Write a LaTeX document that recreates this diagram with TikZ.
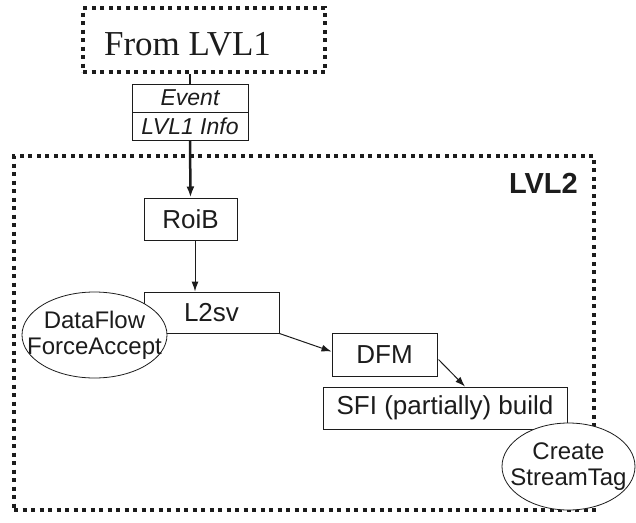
\documentclass[tikz,border=0pt]{standalone}
\usepackage{fontspec}
\setmainfont{Liberation Sans}
\newfontfamily\titleserif{Liberation Serif}
\usetikzlibrary{arrows.meta,shapes.geometric}

\definecolor{ink}{HTML}{1c1c1c}

\tikzset{
  dotframe/.style={draw=ink, line width=4pt, dash pattern=on 4pt off 4.5pt, inner sep=0pt},
  procbox/.style={draw=ink, line width=1pt, fill=white, inner sep=0pt, text=ink,
                  font=\fontsize{26}{30}\selectfont},
  infobox/.style={draw=ink, line width=1pt, fill=white, inner sep=0pt, text=ink,
                  minimum width=116pt, minimum height=28pt,
                  font=\fontsize{23}{26}\selectfont\itshape},
  note/.style={ellipse, draw=ink, line width=0.8pt, fill=white, inner sep=0pt},
  notetext/.style={inner sep=0pt, text=ink, align=center, font=\fontsize{24}{26}\selectfont},
  thickflow/.style={draw=ink, line width=2.5pt},
  thinflow/.style={draw=ink, line width=1pt, -{Latex[length=10pt,width=7pt]}},
}

\begin{document}
\begin{tikzpicture}[x=1pt, y=-1pt]
  \useasboundingbox (0,0) rectangle (636,522);

  % source frame
  \node[dotframe, minimum width=242pt, minimum height=64pt] (src) at (204,40) {};
  \node[anchor=base, text=ink, font=\titleserif\fontsize{35}{40}\selectfont, inner sep=0pt]
    (srctxt) at (187.5,55) {From LVL1};

  % LVL2 frame
  \node[dotframe, minimum width=580pt, minimum height=354pt] (lvl2) at (304,333) {};
  \node[anchor=base east, text=ink, font=\fontsize{29}{32}\selectfont\bfseries, inner sep=0pt]
    (lvl2txt) at (578,193) {LVL2};

  % event record
  \node[infobox] (evt) at (190,98) {Event};
  \node[infobox] (info) at (190,126) {LVL1 Info};

  % processing boxes
  \node[procbox, minimum width=93pt, minimum height=42pt] (roib) at (190.5,219) {RoiB};
  \node[procbox, minimum width=135pt, minimum height=41pt] (l2sv) at (211.5,312.5) {L2sv};
  \node[procbox, minimum width=105pt, minimum height=43pt] (dfm) at (384.5,354.5) {DFM};
  \node[procbox, minimum width=244pt, minimum height=42pt] (sfi) at (445,408) {SFI (partially) build};

  % annotations: fixed-size ellipses with their text laid on top
  \node[note, minimum width=145pt, minimum height=86pt] (dfa) at (94.5,335) {};
  \node[notetext] (dfatxt) at (dfa.center) {DataFlow\\ForceAccept};
  \node[note, minimum width=133pt, minimum height=87pt] (stag) at (568.5,466.5) {};
  \node[notetext] (stagtxt) at (stag.center) {Create\\StreamTag};

  % event path
  \draw[thickflow] (evt.north |- src.south) -- (evt.north);
  \draw[thickflow, -{Latex[length=11pt,width=8pt]}] (info.south) -- (roib.north);
  \draw[thinflow] ([xshift=4.5pt]roib.south) -- ([xshift=4.5pt]roib.south |- l2sv.north);
  \draw[thinflow] (l2sv.south east) -- ([yshift=3pt]dfm.west);
  \draw[thinflow] ([xshift=1pt,yshift=-5pt]dfm.east) -- ([xshift=20pt]sfi.north);
\end{tikzpicture}
\end{document}
